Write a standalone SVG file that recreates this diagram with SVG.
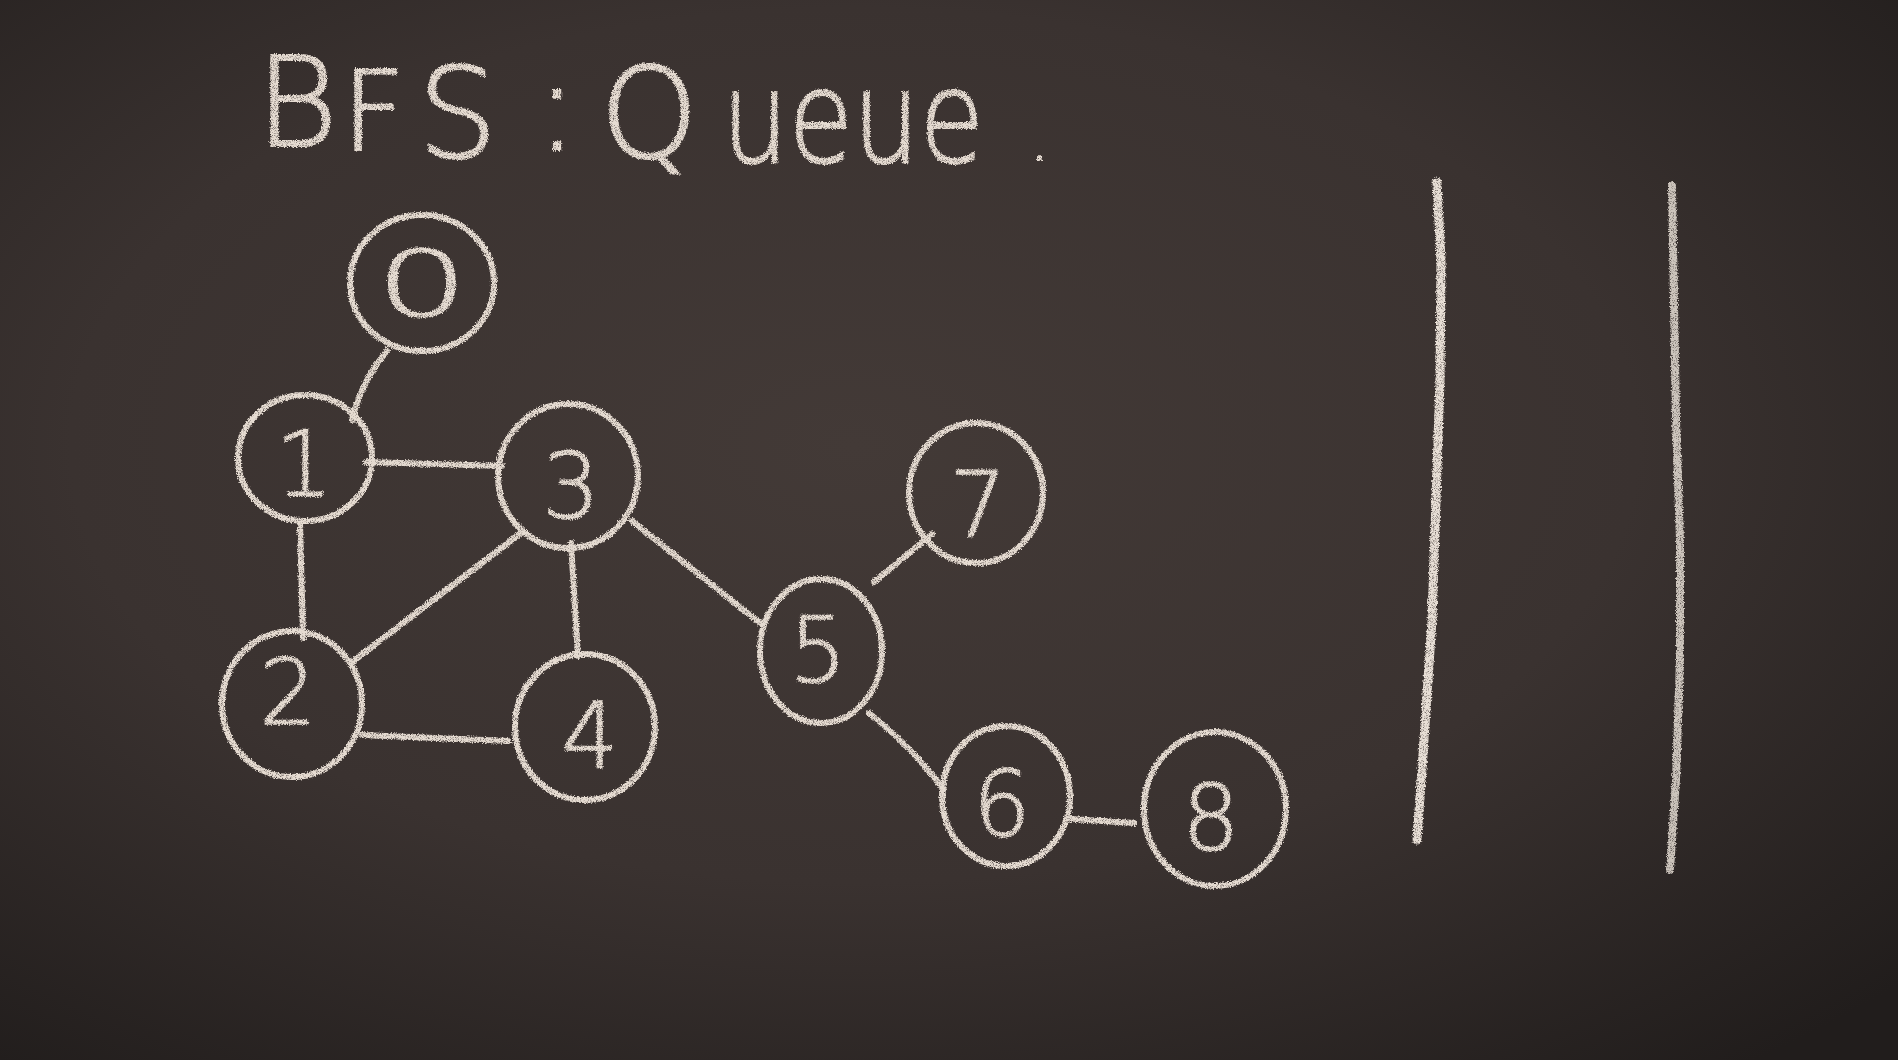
<svg xmlns="http://www.w3.org/2000/svg" width="1898" height="1060" viewBox="0 0 1898 1060">
<defs>
  <radialGradient id="board" cx="45%" cy="42%" r="75%">
    <stop offset="0" stop-color="#433a37"/>
    <stop offset="0.55" stop-color="#3a3230"/>
    <stop offset="1" stop-color="#211d1c"/>
  </radialGradient>
  <filter id="chalk" x="-5%" y="-5%" width="110%" height="110%">
    <feTurbulence type="fractalNoise" baseFrequency="0.8" numOctaves="2" seed="4" result="n"/>
    <feDisplacementMap in="SourceGraphic" in2="n" scale="4.5" xChannelSelector="R" yChannelSelector="G" result="d"/>
    <feTurbulence type="fractalNoise" baseFrequency="1.4" numOctaves="1" seed="9" result="n2"/>
    <feColorMatrix in="n2" type="matrix" values="0 0 0 0 0  0 0 0 0 0  0 0 0 0 0  2.6 0 0 0 -0.3" result="mask"/>
    <feComposite in="d" in2="mask" operator="in"/>
  </filter>
  <style>
    .chalk { filter: url(#chalk); }
    .edge line, .edge path { stroke: #e4dad0; stroke-width: 6; fill: none; stroke-linecap: round; }
    .node ellipse { stroke: #e6dcd2; stroke-width: 6; fill: none; }
    .node text { fill: #e6dcd2; stroke: #e6dcd2; stroke-width: 1.5; font-family: "DejaVu Sans", "Liberation Sans", sans-serif; font-size: 90px; text-anchor: middle; font-weight: 200; }
    .title { fill: #e6dcd2; stroke: #e6dcd2; stroke-width: 2; font-family: "DejaVu Sans", "Liberation Sans", sans-serif; font-weight: 200; }
    .queue path { stroke: #e8dfd6; fill: none; stroke-linecap: round; }
  </style>
</defs>
<rect width="1898" height="1060" fill="url(#board)"/>

<text class="title chalk" font-size="125"><tspan x="256" y="146">B</tspan><tspan x="342" y="150" font-size="110">F</tspan><tspan x="418" y="157" font-size="125">S</tspan><tspan x="536" y="150">:</tspan><tspan x="600" y="157">Q</tspan><tspan x="722" y="162" font-size="128" textLength="262" lengthAdjust="spacingAndGlyphs">ueue</tspan><tspan x="1030" y="160" font-size="60">.</tspan></text>

<g id="connectors" class="edge chalk">
  <path d="M387 351 Q362 380 352 420"/>
  <line x1="366" y1="462" x2="502" y2="466"/>
  <line x1="300" y1="523" x2="303" y2="638"/>
  <line x1="352" y1="662" x2="521" y2="533"/>
  <line x1="362" y1="735" x2="508" y2="741"/>
  <line x1="571" y1="543" x2="578" y2="656"/>
  <line x1="632" y1="521" x2="760" y2="623"/>
  <line x1="874" y1="582" x2="932" y2="534"/>
  <path d="M869 713 Q910 745 944 790"/>
  <line x1="1071" y1="819" x2="1134" y2="823"/>
</g>

<g id="node-0" class="node chalk">
  <ellipse cx="422" cy="283" rx="72" ry="68"/>
  <text transform="translate(422 316) scale(1.6 1)" font-size="62" stroke-width="0.5">0</text>
</g>
<g id="node-1" class="node chalk">
  <ellipse cx="305" cy="458" rx="67" ry="63"/>
  <text x="304" y="496">1</text>
</g>
<g id="node-3" class="node chalk">
  <ellipse cx="568" cy="476" rx="70" ry="72"/>
  <text x="571" y="518" font-size="100">3</text>
</g>
<g id="node-2" class="node chalk">
  <ellipse cx="292" cy="704" rx="70" ry="73"/>
  <text x="288" y="724" font-size="72">2</text>
</g>
<g id="node-4" class="node chalk">
  <ellipse cx="585" cy="727" rx="70" ry="73"/>
  <text x="590" y="768" font-size="100">4</text>
</g>
<g id="node-7" class="node chalk">
  <ellipse cx="976" cy="493" rx="67" ry="70"/>
  <text x="978" y="537" font-size="105">7</text>
</g>
<g id="node-5" class="node chalk">
  <ellipse cx="821" cy="651" rx="61" ry="72"/>
  <text x="818" y="682" font-size="85">5</text>
</g>
<g id="node-6" class="node chalk">
  <ellipse cx="1006" cy="796" rx="64" ry="70"/>
  <text x="1002" y="836" font-size="88">6</text>
</g>
<g id="node-8" class="node chalk">
  <ellipse cx="1215" cy="809" rx="71" ry="77"/>
  <text x="1211" y="850" font-size="100">8</text>
</g>

<g id="queue" class="queue chalk">
  <path d="M1437 182 L1441 260 L1440 380 L1436 500 L1432 620 L1424 740 L1417 840" stroke-width="9"/>
  <path d="M1672 186 L1674 300 L1676 420 L1680 540 L1680 660 L1676 780 L1670 870" stroke-width="8" opacity="0.85"/>
</g>
</svg>
